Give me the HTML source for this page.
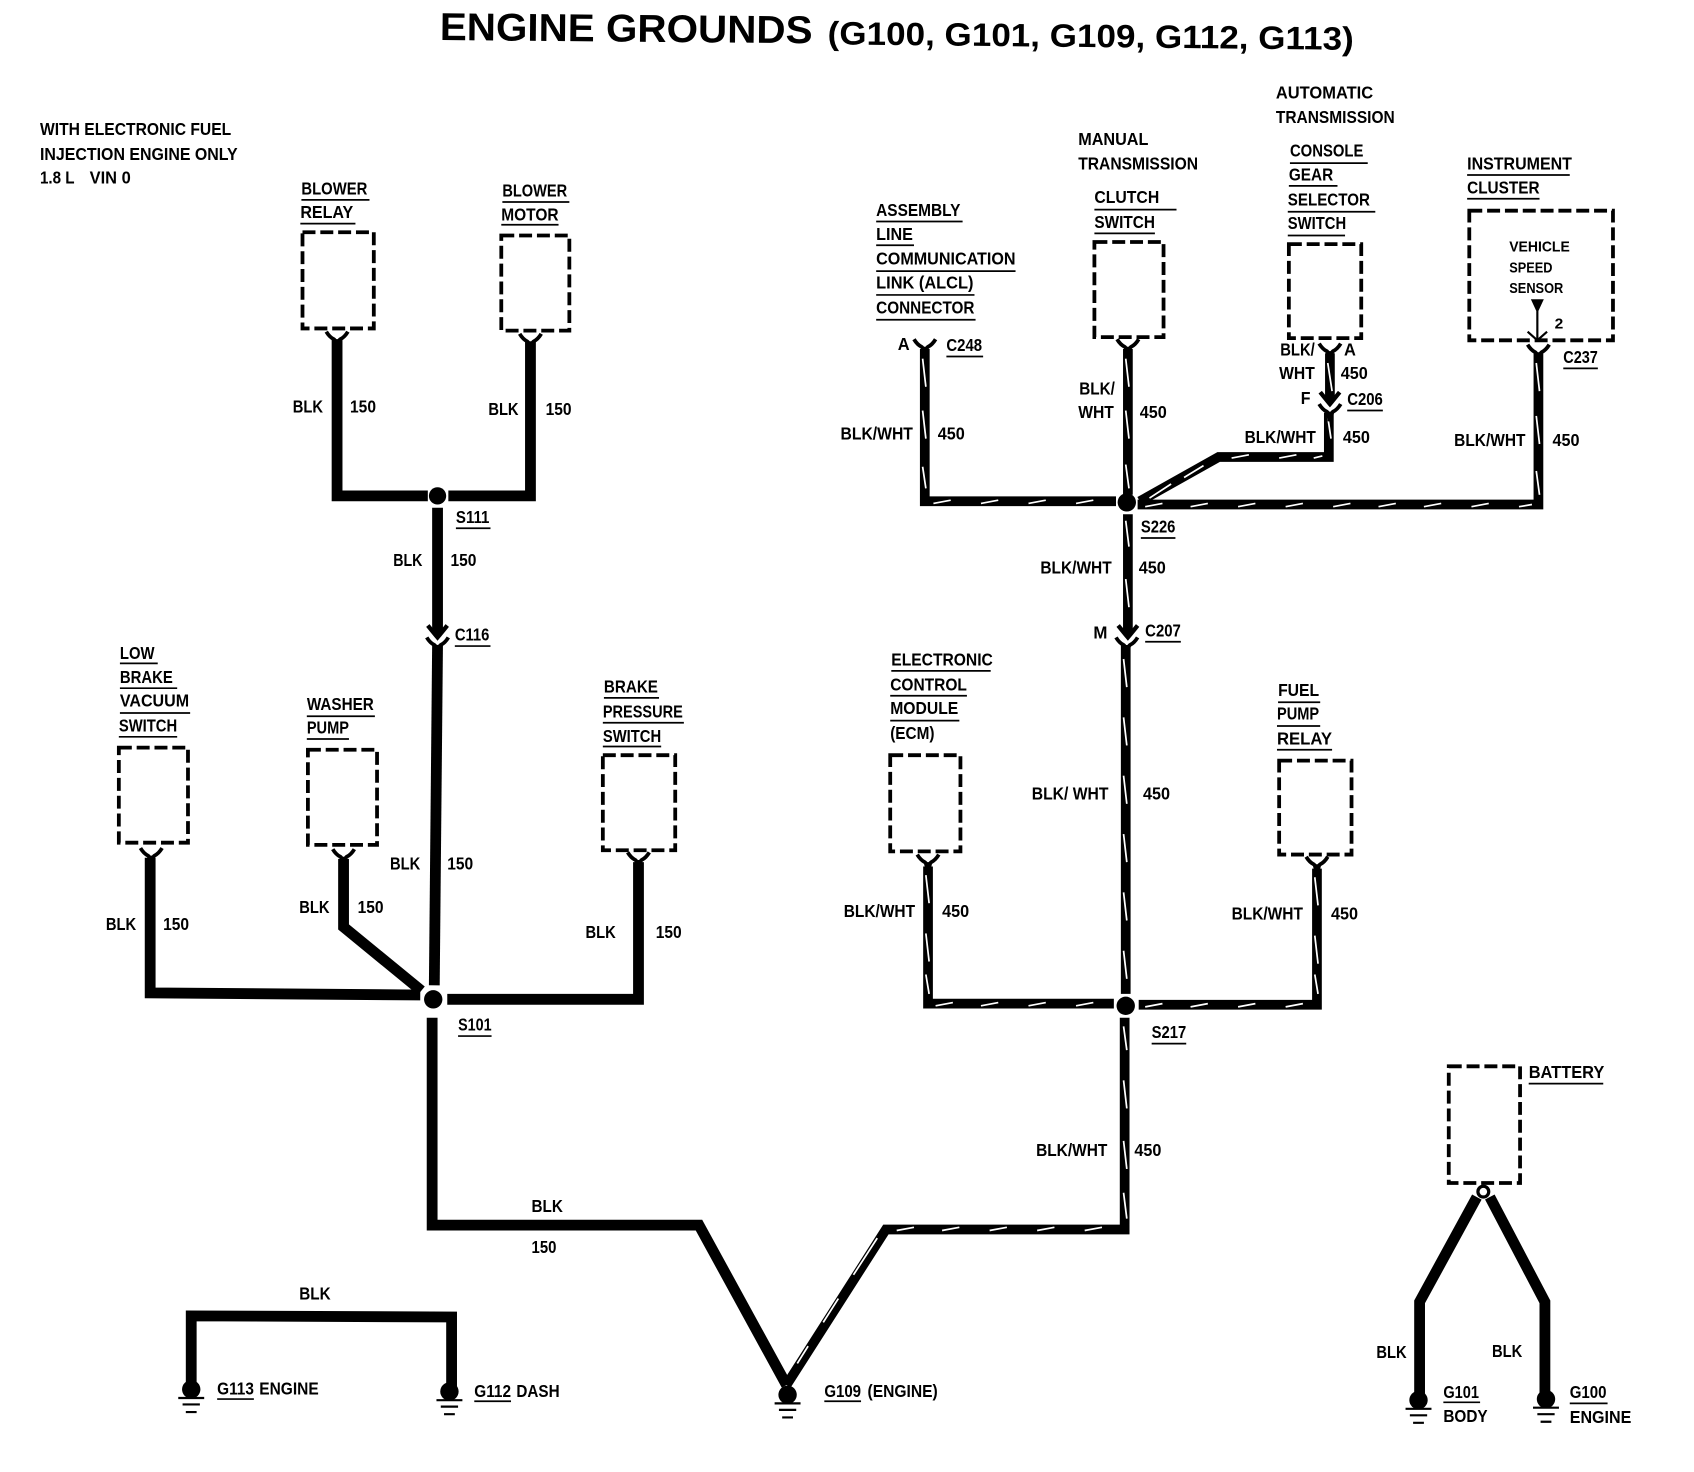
<!DOCTYPE html>
<html><head><meta charset="utf-8"><style>
html,body{margin:0;padding:0;background:#fff}
svg{display:block}
text{font-family:"Liberation Sans",sans-serif;font-weight:bold;font-size:16px;fill:#000}
.w{fill:none;stroke:#000;stroke-width:10;stroke-linejoin:miter}
.bw{fill:none;stroke:#000;stroke-width:9;stroke-linejoin:miter}
.st{fill:none;stroke:#fff;stroke-width:1.6}
.b{fill:none;stroke:#000;stroke-width:3.5;stroke-dasharray:12 4.5}
.u{fill:none;stroke:#000;stroke-width:1.6}
.c{fill:none;stroke:#000;stroke-width:3.5}
</style></head><body>
<svg xmlns="http://www.w3.org/2000/svg" width="1694" height="1472" viewBox="0 0 1568 1362.5">
<defs>
<g id="y"><path class="c" d="M-10,-7 Q-7,-2 -3,0 Q-1,1 0,8 Q1,1 3,0 Q7,-2 10,-7"/><path d="M-4,0H4L2,9H-2Z" fill="#000"/></g>
<g id="v"><path class="c" d="M-9,-8 Q-5,-3 0,3 Q5,-3 9,-8" style="stroke-width:4"/><path d="M-4,-5H4L0,2Z" fill="#000"/></g>
<g id="g"><circle r="8.5" cy="0" fill="#000"/><path class="c" style="stroke-width:2" d="M-12,8H12M-8,14H8M-5,21H5"/></g>
</defs>

<text x="407" y="37" textLength="345" lengthAdjust="spacingAndGlyphs" style="font-size:36px" transform="rotate(0.5 407 37)">ENGINE GROUNDS</text>
<text x="766" y="41" textLength="487" lengthAdjust="spacingAndGlyphs" style="font-size:30px" transform="rotate(0.6 766 41)">(G100, G101, G109, G112, G113)</text>

<!-- boxes -->
<rect class="b" x="280" y="215" width="66" height="89"/>
<rect class="b" x="464" y="218" width="63" height="88"/>
<rect class="b" x="1013" y="224" width="64" height="88"/>
<rect class="b" x="1193" y="226" width="67" height="87"/>
<rect class="b" x="1360" y="195" width="133" height="120"/>
<rect class="b" x="110" y="692" width="64" height="88"/>
<rect class="b" x="285" y="694" width="64" height="88"/>
<rect class="b" x="558" y="699" width="67" height="88"/>
<rect class="b" x="824" y="699" width="65" height="89"/>
<rect class="b" x="1184" y="704" width="67" height="87"/>
<rect class="b" x="1341" y="987" width="66" height="108"/>

<!-- BLK wires -->
<path class="w" d="M312,314V459H396"/>
<path class="w" d="M415,459H491V316"/>
<path class="w" d="M405,470V584"/>
<path class="w" d="M405,597L402,912"/>
<path class="w" d="M389,921L139,919V794"/>
<path class="w" d="M318,795V858L390,917"/>
<path class="w" d="M414,925H591V798"/>
<path class="w" d="M400,942V1134H647L728,1282"/>
<path class="w" d="M177,1282V1218L418,1219V1285"/>
<path class="w" d="M1367,1108L1314,1205V1290"/>
<path class="w" d="M1379,1108L1430,1205V1290"/>

<!-- BLK/WHT wires -->
<g>
<path class="bw" d="M728,1282L820,1138H1041V942"/>
<path class="bw" d="M1042,920V597"/>
<path class="bw" d="M1044,583V476"/>
<path class="bw" d="M1044,458V323"/>
<path class="bw" d="M1033,464H856V323"/>
<path class="bw" d="M1053,467H1424V327"/>
<path class="bw" d="M1055,464L1128,423H1230V382"/>
<path class="bw" d="M1231,367V327"/>
<path class="bw" d="M1031,929H859V802"/>
<path class="bw" d="M1054,930H1219V804"/>
<path class="st" d="M854,332l3,26M854,380l3,26M854,432l3,20
M1042,332l3,26M1042,380l3,26M1042,430l3,22
M1042,482l3,24M1042,536l3,26
M1040,610l3,26M1040,664l3,26M1040,718l3,26M1040,772l3,26M1040,826l3,26M1040,880l3,26
M1040,950l3,22M1040,1000l3,26M1040,1056l3,26M1040,1104l3,24
M1422,336l3,26M1422,385l3,26M1422,436l3,22
M1229,336l4,26M1229,386l3,20
M857,810l3,26M857,864l3,26M857,902l3,18
M1217,812l3,26M1217,866l3,26M1217,902l3,18
M864,466l16,-3M908,466l16,-3M952,466l16,-3M996,466l16,-3
M1060,469l16,-3M1102,469l16,-3M1146,469l16,-3M1190,469l16,-3M1234,469l16,-3M1276,469l16,-3M1318,469l16,-3M1362,469l16,-3M1406,469l12,-2
M1140,424l16,-3M1184,424l16,-3M1216,424l8,-2M1064,461l20,-13M1096,442l18,-11
M830,1139l16,-3M872,1139l16,-3M916,1139l16,-3M960,1139l16,-3M1004,1139l16,-3
M866,931l16,-3M908,931l16,-3M952,931l16,-3M996,931l16,-3
M1060,932l16,-3M1102,932l16,-3M1146,932l16,-3M1190,932l16,-3
M738,1262l10,-16M762,1224l14,-22M790,1180l22,-34"/>
</g>

<!-- junctions -->
<circle cx="405" cy="459" r="8" fill="#000"/>
<circle cx="401" cy="925" r="8.5" fill="#000"/>
<circle cx="1043" cy="465" r="8.5" fill="#000"/>
<circle cx="1042" cy="931" r="8.5" fill="#000"/>
<circle cx="1373" cy="1103" r="5" fill="#fff" stroke="#000" stroke-width="3"/>

<!-- connectors -->
<use href="#y" x="312" y="314"/><use href="#y" x="491" y="316"/>
<use href="#v" x="405" y="587"/><use href="#y" x="405" y="597"/>
<use href="#y" x="140" y="792"/><use href="#y" x="318" y="793"/><use href="#y" x="591" y="796"/>
<use href="#y" x="856" y="321"/><use href="#y" x="1044" y="321"/>
<use href="#y" x="1231" y="325"/><use href="#v" x="1231" y="371"/><use href="#y" x="1231" y="381"/>
<use href="#y" x="1424" y="326"/>
<use href="#v" x="1044" y="587"/><use href="#y" x="1043" y="597"/>
<use href="#y" x="859" y="798"/><use href="#y" x="1219" y="800"/>
<path d="M1417,277H1429L1423,290Z" fill="#000"/>
<path class="c" style="stroke-width:2" d="M1423,288V315M1414,307L1423,315L1432,307"/>

<!-- grounds -->
<use href="#g" x="177" y="1286"/><use href="#g" x="416" y="1288"/><use href="#g" x="729" y="1291"/>
<use href="#g" x="1313" y="1296"/><use href="#g" x="1431" y="1295"/>

<!-- underlines -->
<path class="u" d="M279,185H342M278,207H329M465,187H527M464,208H517M422,489H454M421,598H454
M111,614H146M111,637H164M111,660H176M110,682H164M284,663H347M284,684H323
M559,646H610M558,669H633M558,691H612M424,959H455M201,1295H235M439,1297H473M763,1297H797
M811,205H891M811,227H846M811,251H940M811,273H902M811,296H903M876,330H910
M1013,194H1089M1013,216H1069M1194,151H1266M1193,172H1238M1192,196H1273M1192,218H1245
M1358,162H1453M1358,184H1425M1447,341H1479M1247,380H1280M1056,498H1088M1060,594H1093
M825,621H917M824,644H895M824,667H888M1183,650H1222M1182,672H1222M1182,694H1233
M1066,966H1098M1415,1003H1484M1336,1298H1370M1453,1299H1488"/>

<!-- labels -->
<g transform="translate(0,-1)">
<text lengthAdjust="spacingAndGlyphs" x="37" y="126" textLength="177">WITH ELECTRONIC FUEL</text>
<text lengthAdjust="spacingAndGlyphs" x="37" y="149" textLength="183">INJECTION ENGINE ONLY</text>
<text lengthAdjust="spacingAndGlyphs" x="37" y="171" textLength="32">1.8 L</text>
<text lengthAdjust="spacingAndGlyphs" x="83" y="171" textLength="38">VIN 0</text>
<text lengthAdjust="spacingAndGlyphs" x="279" y="181" textLength="61">BLOWER</text>
<text lengthAdjust="spacingAndGlyphs" x="278" y="203" textLength="49">RELAY</text>
<text lengthAdjust="spacingAndGlyphs" x="465" y="183" textLength="60">BLOWER</text>
<text lengthAdjust="spacingAndGlyphs" x="464" y="205" textLength="53">MOTOR</text>
<text lengthAdjust="spacingAndGlyphs" x="422" y="485" textLength="31">S111</text>
<text lengthAdjust="spacingAndGlyphs" x="271" y="383" textLength="28">BLK</text>
<text lengthAdjust="spacingAndGlyphs" x="324" y="383" textLength="24">150</text>
<text lengthAdjust="spacingAndGlyphs" x="452" y="385" textLength="28">BLK</text>
<text lengthAdjust="spacingAndGlyphs" x="505" y="385" textLength="24">150</text>
<text lengthAdjust="spacingAndGlyphs" x="364" y="525" textLength="27">BLK</text>
<text lengthAdjust="spacingAndGlyphs" x="417" y="525" textLength="24">150</text>
<text lengthAdjust="spacingAndGlyphs" x="421" y="594" textLength="32">C116</text>
<text lengthAdjust="spacingAndGlyphs" x="111" y="611" textLength="32">LOW</text>
<text lengthAdjust="spacingAndGlyphs" x="111" y="633" textLength="49">BRAKE</text>
<text lengthAdjust="spacingAndGlyphs" x="111" y="655" textLength="64">VACUUM</text>
<text lengthAdjust="spacingAndGlyphs" x="110" y="678" textLength="54">SWITCH</text>
<text lengthAdjust="spacingAndGlyphs" x="284" y="658" textLength="62">WASHER</text>
<text lengthAdjust="spacingAndGlyphs" x="284" y="680" textLength="39">PUMP</text>
<text lengthAdjust="spacingAndGlyphs" x="559" y="642" textLength="50">BRAKE</text>
<text lengthAdjust="spacingAndGlyphs" x="558" y="665" textLength="74">PRESSURE</text>
<text lengthAdjust="spacingAndGlyphs" x="558" y="688" textLength="54">SWITCH</text>
<text lengthAdjust="spacingAndGlyphs" x="361" y="806" textLength="28">BLK</text>
<text lengthAdjust="spacingAndGlyphs" x="414" y="806" textLength="24">150</text>
<text lengthAdjust="spacingAndGlyphs" x="98" y="862" textLength="28">BLK</text>
<text lengthAdjust="spacingAndGlyphs" x="151" y="862" textLength="24">150</text>
<text lengthAdjust="spacingAndGlyphs" x="277" y="846" textLength="28">BLK</text>
<text lengthAdjust="spacingAndGlyphs" x="331" y="846" textLength="24">150</text>
<text lengthAdjust="spacingAndGlyphs" x="542" y="869" textLength="28">BLK</text>
<text lengthAdjust="spacingAndGlyphs" x="607" y="869" textLength="24">150</text>
<text lengthAdjust="spacingAndGlyphs" x="424" y="955" textLength="31">S101</text>
<text lengthAdjust="spacingAndGlyphs" x="492" y="1123" textLength="29">BLK</text>
<text lengthAdjust="spacingAndGlyphs" x="492" y="1161" textLength="23">150</text>
<text lengthAdjust="spacingAndGlyphs" x="277" y="1204" textLength="29">BLK</text>
<text lengthAdjust="spacingAndGlyphs" x="201" y="1292" textLength="34">G113</text>
<text lengthAdjust="spacingAndGlyphs" x="240" y="1292" textLength="55">ENGINE</text>
<text lengthAdjust="spacingAndGlyphs" x="439" y="1294" textLength="34">G112</text>
<text lengthAdjust="spacingAndGlyphs" x="478" y="1294" textLength="40">DASH</text>
<text lengthAdjust="spacingAndGlyphs" x="763" y="1294" textLength="34">G109</text>
<text lengthAdjust="spacingAndGlyphs" x="803" y="1294" textLength="65">(ENGINE)</text>
<text lengthAdjust="spacingAndGlyphs" x="998" y="135" textLength="65">MANUAL</text>
<text lengthAdjust="spacingAndGlyphs" x="998" y="158" textLength="111">TRANSMISSION</text>
<text lengthAdjust="spacingAndGlyphs" x="1181" y="92" textLength="90">AUTOMATIC</text>
<text lengthAdjust="spacingAndGlyphs" x="1181" y="115" textLength="110">TRANSMISSION</text>
<text lengthAdjust="spacingAndGlyphs" x="811" y="201" textLength="78">ASSEMBLY</text>
<text lengthAdjust="spacingAndGlyphs" x="811" y="223" textLength="34">LINE</text>
<text lengthAdjust="spacingAndGlyphs" x="811" y="246" textLength="129">COMMUNICATION</text>
<text lengthAdjust="spacingAndGlyphs" x="811" y="268" textLength="90">LINK (ALCL)</text>
<text lengthAdjust="spacingAndGlyphs" x="811" y="291" textLength="91">CONNECTOR</text>
<text lengthAdjust="spacingAndGlyphs" x="831" y="325" textLength="11">A</text>
<text lengthAdjust="spacingAndGlyphs" x="876" y="326" textLength="33">C248</text>
<text lengthAdjust="spacingAndGlyphs" x="1013" y="189" textLength="60">CLUTCH</text>
<text lengthAdjust="spacingAndGlyphs" x="1013" y="212" textLength="56">SWITCH</text>
<text lengthAdjust="spacingAndGlyphs" x="1194" y="146" textLength="68">CONSOLE</text>
<text lengthAdjust="spacingAndGlyphs" x="1193" y="168" textLength="41">GEAR</text>
<text lengthAdjust="spacingAndGlyphs" x="1192" y="191" textLength="76">SELECTOR</text>
<text lengthAdjust="spacingAndGlyphs" x="1192" y="213" textLength="54">SWITCH</text>
<text lengthAdjust="spacingAndGlyphs" x="1358" y="158" textLength="97">INSTRUMENT</text>
<text lengthAdjust="spacingAndGlyphs" x="1358" y="180" textLength="67">CLUSTER</text>
<text lengthAdjust="spacingAndGlyphs" x="1397" y="234" textLength="56" style="font-size:14px">VEHICLE</text>
<text lengthAdjust="spacingAndGlyphs" x="1397" y="253" textLength="40" style="font-size:14px">SPEED</text>
<text lengthAdjust="spacingAndGlyphs" x="1397" y="272" textLength="50" style="font-size:14px">SENSOR</text>
<text lengthAdjust="spacingAndGlyphs" x="1439" y="305" textLength="8" style="font-size:14px">2</text>
<text lengthAdjust="spacingAndGlyphs" x="1447" y="337" textLength="32">C237</text>
<text lengthAdjust="spacingAndGlyphs" x="1185" y="330" textLength="32">BLK/</text>
<text lengthAdjust="spacingAndGlyphs" x="1244" y="330" textLength="11">A</text>
<text lengthAdjust="spacingAndGlyphs" x="1184" y="352" textLength="33">WHT</text>
<text lengthAdjust="spacingAndGlyphs" x="1241" y="352" textLength="25">450</text>
<text lengthAdjust="spacingAndGlyphs" x="1204" y="375" textLength="9">F</text>
<text lengthAdjust="spacingAndGlyphs" x="1247" y="376" textLength="33">C206</text>
<text lengthAdjust="spacingAndGlyphs" x="1152" y="411" textLength="66">BLK/WHT</text>
<text lengthAdjust="spacingAndGlyphs" x="1243" y="411" textLength="25">450</text>
<text lengthAdjust="spacingAndGlyphs" x="999" y="366" textLength="33">BLK/</text>
<text lengthAdjust="spacingAndGlyphs" x="998" y="388" textLength="33">WHT</text>
<text lengthAdjust="spacingAndGlyphs" x="1055" y="388" textLength="25">450</text>
<text lengthAdjust="spacingAndGlyphs" x="778" y="408" textLength="67">BLK/WHT</text>
<text lengthAdjust="spacingAndGlyphs" x="868" y="408" textLength="25">450</text>
<text lengthAdjust="spacingAndGlyphs" x="1346" y="414" textLength="66">BLK/WHT</text>
<text lengthAdjust="spacingAndGlyphs" x="1437" y="414" textLength="25">450</text>
<text lengthAdjust="spacingAndGlyphs" x="1056" y="494" textLength="32">S226</text>
<text lengthAdjust="spacingAndGlyphs" x="963" y="532" textLength="66">BLK/WHT</text>
<text lengthAdjust="spacingAndGlyphs" x="1054" y="532" textLength="25">450</text>
<text lengthAdjust="spacingAndGlyphs" x="1012" y="592" textLength="13">M</text>
<text lengthAdjust="spacingAndGlyphs" x="1060" y="590" textLength="33">C207</text>
<text lengthAdjust="spacingAndGlyphs" x="825" y="617" textLength="94">ELECTRONIC</text>
<text lengthAdjust="spacingAndGlyphs" x="824" y="640" textLength="71">CONTROL</text>
<text lengthAdjust="spacingAndGlyphs" x="824" y="662" textLength="63">MODULE</text>
<text lengthAdjust="spacingAndGlyphs" x="824" y="685" textLength="41">(ECM)</text>
<text lengthAdjust="spacingAndGlyphs" x="1183" y="645" textLength="38">FUEL</text>
<text lengthAdjust="spacingAndGlyphs" x="1182" y="667" textLength="39">PUMP</text>
<text lengthAdjust="spacingAndGlyphs" x="1182" y="690" textLength="51">RELAY</text>
<text lengthAdjust="spacingAndGlyphs" x="955" y="741" textLength="71">BLK/ WHT</text>
<text lengthAdjust="spacingAndGlyphs" x="1058" y="741" textLength="25">450</text>
<text lengthAdjust="spacingAndGlyphs" x="781" y="850" textLength="66">BLK/WHT</text>
<text lengthAdjust="spacingAndGlyphs" x="872" y="850" textLength="25">450</text>
<text lengthAdjust="spacingAndGlyphs" x="1140" y="852" textLength="66">BLK/WHT</text>
<text lengthAdjust="spacingAndGlyphs" x="1232" y="852" textLength="25">450</text>
<text lengthAdjust="spacingAndGlyphs" x="1066" y="962" textLength="32">S217</text>
<text lengthAdjust="spacingAndGlyphs" x="959" y="1071" textLength="66">BLK/WHT</text>
<text lengthAdjust="spacingAndGlyphs" x="1050" y="1071" textLength="25">450</text>
<text lengthAdjust="spacingAndGlyphs" x="1415" y="999" textLength="70">BATTERY</text>
<text lengthAdjust="spacingAndGlyphs" x="1274" y="1258" textLength="28">BLK</text>
<text lengthAdjust="spacingAndGlyphs" x="1381" y="1257" textLength="28">BLK</text>
<text lengthAdjust="spacingAndGlyphs" x="1336" y="1295" textLength="33">G101</text>
<text lengthAdjust="spacingAndGlyphs" x="1336" y="1317" textLength="41">BODY</text>
<text lengthAdjust="spacingAndGlyphs" x="1453" y="1295" textLength="34">G100</text>
<text lengthAdjust="spacingAndGlyphs" x="1453" y="1318" textLength="57">ENGINE</text>
</g>
</svg>
</body></html>
